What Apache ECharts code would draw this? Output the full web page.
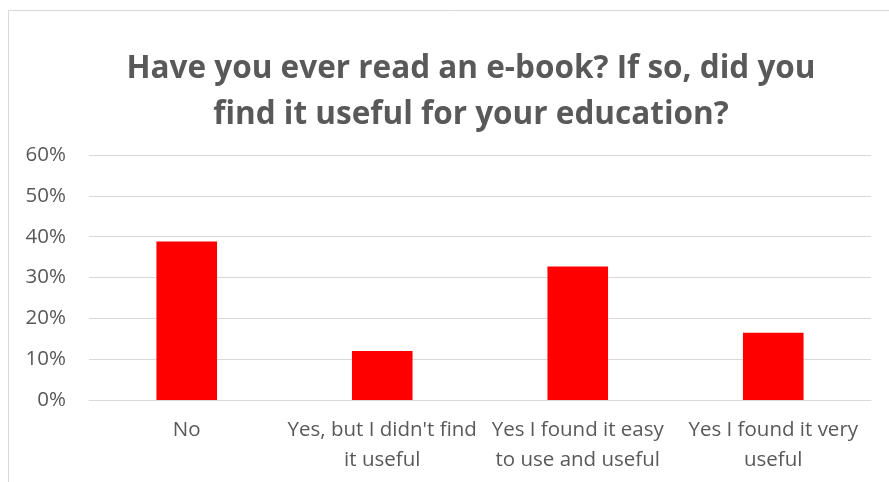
<!DOCTYPE html>
<html><head><meta charset="utf-8">
<script src="https://cdn.jsdelivr.net/npm/echarts@6/dist/echarts.min.js"></script>
<style>html,body{margin:0;padding:0;background:#fff}#c{width:889px;height:482px}</style>
</head><body><div id="c"></div>
<script>
const titleText = "Have you ever read an e-book? If so, did you\nfind it useful for your education?";
const categories = ["No", "Yes, but I didn't find\nit useful", "Yes I found it easy\nto use and useful", "Yes I found it very\nuseful"];
const values = [0.388, 0.12, 0.327, 0.165];
const yTicks = [0, 0.1, 0.2, 0.3, 0.4, 0.5, 0.6];
const FONT = "Open Sans";
const chart = echarts.init(document.getElementById('c'));
chart.setOption({
  animation: false,
  title: {
    text: titleText, left: 466, top: 41, textAlign: 'center',
    textStyle: {fontFamily: FONT, fontWeight: 'bold', fontSize: 31.5, color: '#595959', lineHeight: 46}
  },
  graphic: [{type: 'rect', shape: {x: 8.5, y: 10.5, width: 900, height: 500}, style: {fill: 'none', stroke: '#d9d9d9', lineWidth: 1}, silent: true}],
  grid: {left: 89, right: 18, top: 155, bottom: 82, containLabel: false},
  xAxis: {
    type: 'category', data: categories,
    axisLine: {lineStyle: {color: '#d9d9d9', width: 1}},
    axisTick: {show: false},
    axisLabel: {fontFamily: FONT, fontSize: 20.5, color: '#595959', lineHeight: 30, margin: 15, interval: 0}
  },
  yAxis: {
    type: 'value', min: yTicks[0], max: yTicks[yTicks.length-1], interval: 0.1,
    axisLine: {show: false}, axisTick: {show: false},
    splitLine: {lineStyle: {color: '#d9d9d9', width: 1}},
    axisLabel: {fontFamily: FONT, fontSize: 20.5, color: '#595959', margin: 23,
      formatter: v => Math.round(v*100) + '%'}
  },
  series: [{type: 'bar', data: values, barWidth: '31%', itemStyle: {color: '#ff0000'}}]
});
</script></body></html>
